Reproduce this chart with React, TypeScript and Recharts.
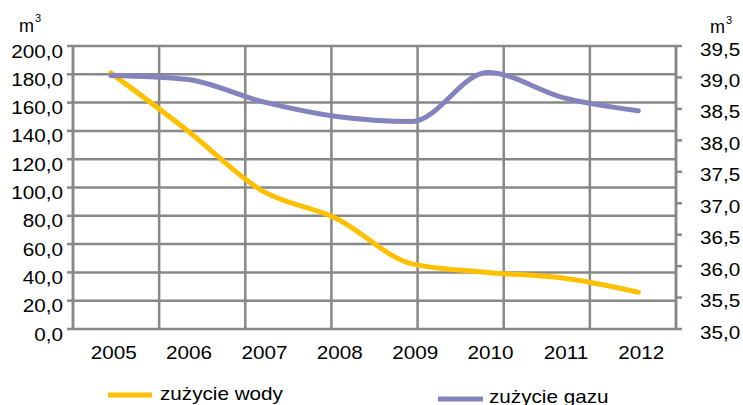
import React from 'react';
import { LineChart, Line, XAxis, YAxis, CartesianGrid } from 'recharts';

const YEARS = ['2005', '2006', '2007', '2008', '2009', '2010', '2011', '2012'];
const WATER = [181, 141, 98, 78, 46, 40, 36, 26];
const GAS = [39.03, 38.97, 38.62, 38.38, 38.3, 39.08, 38.68, 38.47];
const WATER_TICKS = [0, 20, 40, 60, 80, 100, 120, 140, 160, 180, 200];
const GAS_TICKS = [35, 35.5, 36, 36.5, 37, 37.5, 38, 38.5, 39, 39.5];
const BOUNDARY_TICKS = [0, 1, 2, 3, 4, 5, 6, 7, 8];
const SERIES_NAMES = ['zużycie wody', 'zużycie gazu'];
const UNIT = 'm';

const WATER_COLOR = '#ffc000';
const GAS_COLOR = '#8383bd';
const GRID = '#888888';
const FONT = '"Liberation Sans", Arial, sans-serif';
const STRETCH = 'scale(1.15,1)';

const data = YEARS.map((year, i) => ({ year, water: WATER[i], gas: GAS[i] }));

const fmt = (v: number) => v.toFixed(1).replace('.', ',');

const LeftTick = ({ x, y, payload }: any) => (
  <g transform={`translate(${x - 2},${y + 11.5})`}>
    <text transform={STRETCH} textAnchor="end" fontFamily={FONT} fontSize={18} fill="#000">
      {fmt(payload.value)}
    </text>
  </g>
);

const RightTick = ({ x, y, payload }: any) => (
  <g transform={`translate(${x + 16},${y + 9.5})`}>
    <text transform={STRETCH} textAnchor="start" fontFamily={FONT} fontSize={18} fill="#000">
      {fmt(payload.value)}
    </text>
  </g>
);

const YearTick = ({ x, y, payload }: any) => (
  <g transform={`translate(${x + 3},${y + 30})`}>
    <text transform={STRETCH} textAnchor="middle" fontFamily={FONT} fontSize={18} fill="#000">
      {payload.value}
    </text>
  </g>
);

const Unit = ({ x, y, supX, supY }: { x: number; y: number; supX: number; supY: number }) => (
  <g fontFamily={FONT} fill="#000">
    <text x={x} y={y} fontSize={18}>{UNIT}</text>
    <text x={supX} y={supY} fontSize={11}>3</text>
  </g>
);

// legend and unit labels sit outside the plot, drawn on top
const Overlay = () => (
  <svg
    width={743}
    height={405}
    style={{ position: 'absolute', left: 0, top: 0, pointerEvents: 'none' }}
  >
    <Unit x={19} y={32} supX={35} supY={22} />
    <Unit x={710} y={33} supX={726} supY={24} />
    <line x1={108} y1={395} x2={152} y2={395} stroke={WATER_COLOR} strokeWidth={5} />
    <g transform="translate(160,400)">
      <text transform={STRETCH} fontFamily={FONT} fontSize={18} fill="#000">{SERIES_NAMES[0]}</text>
    </g>
    <line x1={438} y1={399} x2={483} y2={399} stroke={GAS_COLOR} strokeWidth={5} />
    <g transform="translate(489,402.5)">
      <text transform={STRETCH} fontFamily={FONT} fontSize={18} fill="#000">{SERIES_NAMES[1]}</text>
    </g>
  </svg>
);

export default function App() {
  return (
    <div style={{ position: 'absolute', left: 0, top: 0, width: 743, height: 405, background: '#fff' }}>
      <LineChart width={743} height={405} data={data} margin={{ top: 46, right: 0, bottom: 0, left: 0 }}>
        <XAxis
          xAxisId="grid"
          type="number"
          domain={[0, 8]}
          ticks={BOUNDARY_TICKS}
          interval={0}
          height={0}
          tick={() => <g />}
          tickSize={4}
          tickLine={{ stroke: GRID, strokeWidth: 2.5 }}
          axisLine={{ stroke: GRID, strokeWidth: 2.5 }}
          allowDataOverflow
        />
        <XAxis
          xAxisId="cat"
          dataKey="year"
          scale="band"
          interval={0}
          height={76}
          axisLine={false}
          tickLine={false}
          tickSize={0}
          tickMargin={0}
          tick={<YearTick />}
        />
        <YAxis
          yAxisId="water"
          width={73}
          domain={[0, 200]}
          ticks={WATER_TICKS}
          interval={0}
          tickSize={6}
          tickMargin={2}
          tickLine={{ stroke: GRID, strokeWidth: 2.5 }}
          axisLine={{ stroke: GRID, strokeWidth: 2.5 }}
          tick={<LeftTick />}
        />
        <YAxis
          yAxisId="gas"
          orientation="right"
          width={67}
          domain={[35, 39.5]}
          ticks={GAS_TICKS}
          interval={0}
          tickSize={6}
          tickMargin={2}
          tickLine={{ stroke: GRID, strokeWidth: 2.5 }}
          axisLine={{ stroke: GRID, strokeWidth: 2.5 }}
          tick={<RightTick />}
        />
        <CartesianGrid xAxisId="grid" yAxisId="water" stroke={GRID} strokeWidth={2.5} />
        <Line
          xAxisId="cat"
          yAxisId="water"
          type="monotone"
          dataKey="water"
          name={SERIES_NAMES[0]}
          stroke={WATER_COLOR}
          strokeWidth={5}
          strokeLinecap="round"
          dot={false}
          isAnimationActive={false}
        />
        <Line
          xAxisId="cat"
          yAxisId="gas"
          type="monotone"
          dataKey="gas"
          name={SERIES_NAMES[1]}
          stroke={GAS_COLOR}
          strokeWidth={5}
          strokeLinecap="round"
          dot={false}
          isAnimationActive={false}
        />
      </LineChart>
      <Overlay />
    </div>
  );
}
